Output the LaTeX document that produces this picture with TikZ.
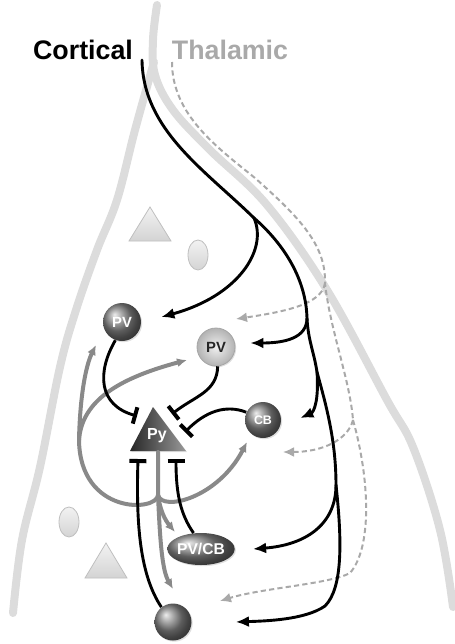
\documentclass[tikz,border=0pt]{standalone}
\usepackage{fontspec}
\setmainfont{Liberation Sans}
\usepackage{tikz}
\usetikzlibrary{shapes,arrows.meta,calc,shadows}

\definecolor{layergray}{HTML}{DCDCDC}
\definecolor{thalgray}{HTML}{A9A9A9}
\definecolor{outgray}{HTML}{898989}

\begin{document}
\begin{tikzpicture}[
    x=0.5pt, y=-0.5pt,
    cell/.style={
      circle,
      ball color=black!48,
      text=white,
      minimum size=19pt,
      inner sep=0pt,
      font=\bfseries\fontsize{7.4}{8}\selectfont,
      drop shadow={opacity=0.25, shadow xshift=0.6pt, shadow yshift=-0.6pt}
    },
    lightcell/.style={cell, inner color=black!6, outer color=black!30, draw=black!35, line width=0.4pt, text=black!85},
    ghost/.style={top color=black!5, bottom color=black!17, draw=black!25, line width=0.4pt},
    layer/.style={draw=layergray, line width=4pt, line cap=round},
    title/.style={font=\bfseries\fontsize{13.4}{16}\selectfont},
    cortaxon/.style={draw, line width=1.45pt, line cap=round},
    cortical/.style={cortaxon, -{Latex[length=6.5pt, width=5.5pt]}},
    thalaxon/.style={draw=thalgray, dash pattern=on 2.6pt off 1.6pt, line width=1pt},
    thalamic/.style={thalaxon, -{Latex[length=5.5pt, width=5pt]}},
    inhib/.style={draw, line width=1.45pt, -{Bar[width=8.5pt, line width=2pt]}},
    excit/.style={draw=outgray, line width=2pt, -{Latex[length=5pt, width=4.5pt]}},
    excitaxon/.style={draw=outgray, line width=2pt, line cap=round},
]
    \useasboundingbox (0,0) rectangle (455,644);

    % layer borders
    \draw[layer] plot[smooth, tension=0.6] coordinates {(157,5) (153,40) (155,75) (173,110) (210,150) (267,205) (327,290) (387,400) (413,447) (440,530) (453,607)};
    \draw[layer] plot[smooth, tension=0.6] coordinates {(154,62) (135,130) (117,200) (97,250) (76,310) (60,367) (40,467) (22,540) (13,613)};

    \node[title] (cortical) at (83,50) {Cortical};
    \node[title, text=thalgray] (thalamic) at (230,50) {Thalamic};

    % faded cells
    \shade[ghost] (150,207) -- (171,241) -- (129,241) -- cycle;
    \node[ghost, ellipse, minimum width=10pt, minimum height=15pt] (ghost1) at (198,255) {};
    \node[ghost, ellipse, minimum width=10pt, minimum height=15pt] (ghost2) at (69,522) {};
    \shade[ghost] (106,543) -- (127,578) -- (85,578) -- cycle;

    % cells
    \node[cell] (pv1) at (122,322) {PV};
    \node[lightcell] (pv2) at (216,347) {PV};
    \node[cell, minimum size=18pt, font=\bfseries\fontsize{6.2}{7}\selectfont] (cb) at (263,420) {CB};
    \node[cell, ellipse, minimum width=28pt, minimum height=16pt, font=\bfseries\fontsize{7.8}{8}\selectfont] (pvcb) at (201,549) {PV/CB};
    \node[cell, minimum size=18.5pt] (bot) at (173,622) {};

    \coordinate (pytop) at (153,407);
    \coordinate (pyleft) at (130,451);
    \coordinate (pyright) at (186,451);
    \shade[left color=black!85, right color=black!40, drop shadow={opacity=0.25, shadow xshift=0.6pt, shadow yshift=-0.6pt}] (pytop) -- (pyright) -- (pyleft) -- cycle;
    \node[text=white, font=\bfseries\fontsize{8}{9}\selectfont] (py) at (157,436) {Py};

    \coordinate (pyin1) at (137,416);
    \coordinate (pyin2) at (172,414);
    \coordinate (pyin3) at (185,432);
    \coordinate (pyin4) at (138,459);
    \coordinate (pyin5) at (176,459);
    \coordinate (pyout) at (158,452);

    % thalamic input
    \coordinate (tstart) at (172,62);
    \coordinate (tbend) at (255,178);
    \coordinate (tfork1) at (325,283);
    \coordinate (tfork2) at (353,420);
    \coordinate (tturn) at (350,573);
    \path[thalaxon] (tstart) .. controls (172,115) and (218,148) .. (tbend)
        .. controls (300,218) and (326,245) .. (tfork1)
        .. controls (330,330) and (350,380) .. (tfork2);
    \path[thalamic] (tfork1) .. controls (322,305) and (282,312) .. ($(pv2)+(20,-28)$);
    \path[thalamic] (tfork2) .. controls (348,440) and (322,452) .. ($(cb)+(20,32)$);
    \path[thalamic] (tfork2) .. controls (370,480) and (372,548) .. (tturn)
        .. controls (330,584) and (262,588) .. ($(bot)+(47,-21)$);

    % cortical input
    \coordinate (cstart) at (142,60);
    \coordinate (cfork1) at (254,218);
    \coordinate (cfork2) at (307,318);
    \coordinate (cfork3) at (317,372);
    \coordinate (cfork4) at (336,485);
    \coordinate (cturn) at (325,606);
    \path[cortaxon] (cstart) .. controls (143,130) and (205,170) .. (cfork1)
        .. controls (285,245) and (306,280) .. (cfork2)
        .. controls (308,340) and (314,352) .. (cfork3)
        .. controls (326,405) and (336,440) .. (cfork4);
    \path[cortical] (cfork1) .. controls (268,250) and (238,296) .. ($(pv1.east)+(20,-5)$);
    \path[cortical] (cfork2) .. controls (307,338) and (285,343) .. ($(pv2.east)+(15,-4)$);
    \path[cortical] (cfork3) .. controls (319,400) and (314,412) .. ($(cb.east)+(19,-2)$);
    \path[cortical] (cfork4) .. controls (336,525) and (305,545) .. ($(pvcb.east)+(18,0)$);
    \path[cortical] (cfork4) .. controls (342,540) and (343,588) .. (cturn)
        .. controls (305,620) and (265,621) .. ($(bot.east)+(44,0)$);

    % Py output
    \coordinate (oknot) at (158,495);
    \coordinate (oleft) at (79,440);
    \path[excitaxon] (pyout) -- (oknot) .. controls (157,512) and (80,515) .. (oleft);
    \path[excit] (oleft) .. controls (80,395) and (86,365) .. ($(pv1)+(-26,23)$);
    \path[excit] (oleft) .. controls (82,400) and (120,378) .. ($(pv2)+(-29,13)$);
    \path[excit] (oknot) .. controls (162,512) and (218,498) .. ($(cb)+(-16,22)$);
    \path[excit] (oknot) .. controls (160,510) and (165,520) .. ($(pvcb)+(-26,-17)$);
    \path[excit] (oknot) .. controls (160,540) and (162,570) .. ($(bot)+(0,-33)$);

    % inhibition onto Py
    \path[inhib] (pv1.-110) .. controls (97,372) and (98,405) .. (pyin1);
    \path[inhib] (pv2.-85) .. controls (217,392) and (195,396) .. (pyin2);
    \path[inhib] (cb.155) .. controls (225,404) and (205,412) .. (pyin3);
    \path[inhib] (pvcb.115) .. controls (181,515) and (176,495) .. (pyin5);
    \path[inhib] (bot.128) .. controls (140,575) and (136,525) .. (pyin4);

\end{tikzpicture}
\end{document}
